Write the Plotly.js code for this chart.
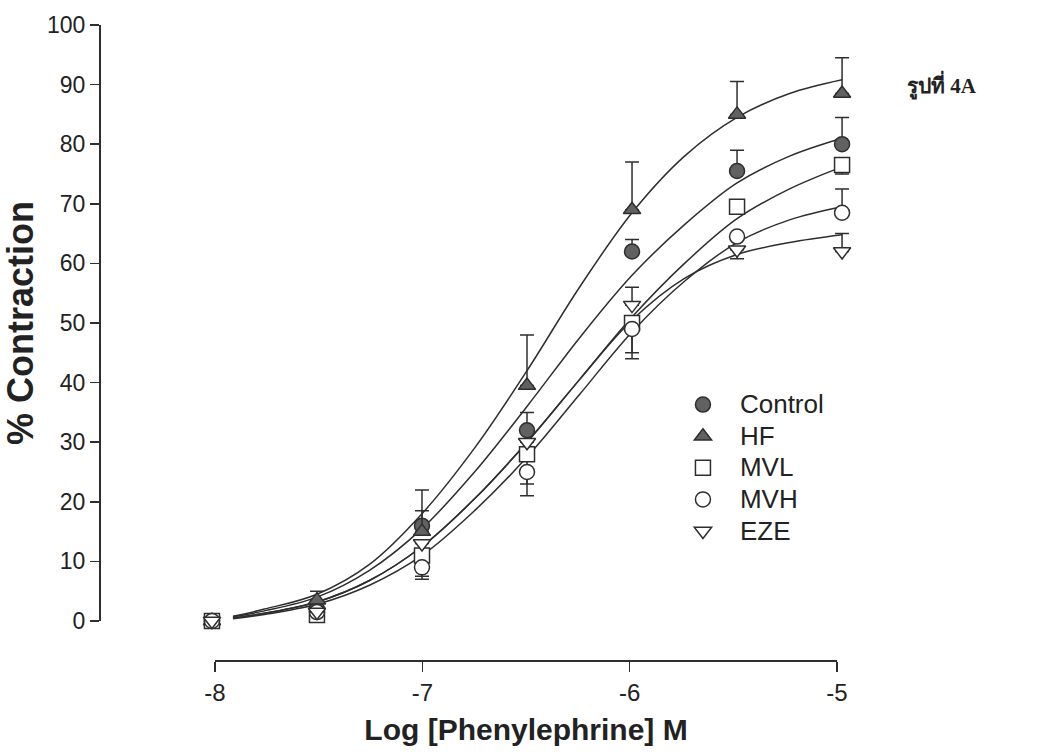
<!DOCTYPE html>
<html>
<head>
<meta charset="utf-8">
<script src="https://cdn.plot.ly/plotly-3.0.1.min.js"></script>
<style>html,body{margin:0;padding:0;background:#fff;}#chart{width:1044px;height:755px;}</style>
</head>
<body>
<div id="chart"></div>
<script>
// ---- data ----
var seriesNames = ["Control", "HF", "MVL", "MVH", "EZE"];
var logDose = [-8, -7.5, -7, -6.5, -6, -5.5, -5];

var controlMean = [0, 2, 16, 32, 62, 75.5, 80];
var hfMean      = [0, 3.5, 15, 39.5, 69, 85, 88.5];
var mvlMean     = [0, 1, 11, 28, 50, 69.5, 76.5];
var mvhMean     = [0, 1.5, 9, 25, 49, 64.5, 68.5];
var ezeMean     = [0, 1.5, 13, 30, 53, 62.3, 62];

var controlErrUp = [0, 0, 6, 3, 2, 3.5, 4.5];
var controlErrDn = [0, 0, 0, 0, 0, 0, 0];
var hfErrUp      = [0, 1.5, 3.5, 8.5, 8, 5.5, 6];
var hfErrDn      = [0, 0, 0, 0, 0, 0, 0];
var mvlErrUp     = [0, 0, 0, 0, 0, 0, 0];
var mvlErrDn     = [0, 0, 3.5, 5, 5, 0, 1.5];
var mvhErrUp     = [0, 0, 0, 0, 0, 0, 4];
var mvhErrDn     = [0, 0, 2, 4, 5, 0, 0];
var ezeErrUp     = [0, 0, 0, 0, 3, 0, 3];
var ezeErrDn     = [0, 0, 0, 0, 0, 1.5, 0];

// fitted curves
var curveDose    = [-7.9, -7.75, -7.5, -7.25, -7, -6.75, -6.5, -6.25, -6, -5.75, -5.5, -5.25, -5];
var hfCurve      = [0.8, 2, 4.5, 9.5, 18, 29, 42, 56, 68.5, 78, 84.5, 88.5, 90.8];
var controlCurve = [0.7, 1.7, 4, 8.5, 15.5, 25, 36, 47.5, 58, 66.5, 73.5, 78, 81];
var mvlCurve     = [0.5, 1.3, 3.2, 6.8, 12.5, 20.5, 30, 40.5, 51, 60, 67.5, 72.5, 76.2];
var mvhCurve     = [0.4, 1.1, 2.8, 6, 11, 18.5, 27.5, 38, 48.5, 57, 63.5, 67.3, 69.5];
var ezeCurve     = [0.5, 1.3, 3.2, 6.8, 12.5, 20.5, 30, 40.5, 50.5, 57.5, 61.5, 63.5, 64.8];

var xTickVals = [-8, -7, -6, -5];
var xTickText = ["-8", "-7", "-6", "-5"];
var yTickVals = [0, 10, 20, 30, 40, 50, 60, 70, 80, 90, 100];

// ---- styling ----
var ink = "#2e2e2e";
var fillDark = "#616161";
var font = "Liberation Sans, Arial, sans-serif";

function curve(y) {
  return {x: curveDose, y: y, mode: "lines", type: "scatter", line: {color: ink, width: 1.5, shape: "spline", smoothing: 1},
          showlegend: false, hoverinfo: "skip", xaxis: "x", yaxis: "y"};
}
function pts(name, y, up, dn, symbol, fill) {
  return {x: logDose, y: y, name: '<span style="font-size:26px">' + name + '</span>', mode: "markers", type: "scatter", cliponaxis: false,
          legendgroup: name,
          marker: {symbol: symbol, size: 15, color: fill, line: {color: ink, width: 1.5}},
          error_y: {type: "data", symmetric: false, array: up, arrayminus: dn, color: ink, thickness: 1.5, width: 7},
          xaxis: "x", yaxis: "y"};
}

var traces = [
  curve(hfCurve), curve(controlCurve), curve(mvlCurve), curve(mvhCurve), curve(ezeCurve),
  pts(seriesNames[0], controlMean, controlErrUp, controlErrDn, "circle", fillDark),
  pts(seriesNames[1], hfMean, hfErrUp, hfErrDn, "triangle-up", fillDark),
  pts(seriesNames[2], mvlMean, mvlErrUp, mvlErrDn, "square", "#ffffff"),
  pts(seriesNames[3], mvhMean, mvhErrUp, mvhErrDn, "circle", "#ffffff"),
  pts(seriesNames[4], ezeMean, ezeErrUp, ezeErrDn, "triangle-down", "#ffffff"),
  {x: xTickVals, y: [0, 0, 0, 0], mode: "none", type: "scatter", showlegend: false, hoverinfo: "skip", xaxis: "x2", yaxis: "y2"}
];

var layout = {
  width: 1044, height: 755,
  paper_bgcolor: "#ffffff", plot_bgcolor: "rgba(0,0,0,0)",
  margin: {l: 100, r: 174, t: 25, b: 95},
  font: {family: font, color: "#222"},
  showlegend: true,
  xaxis: {domain: [0, 1], range: [-8.533, -4.867], visible: false, fixedrange: true},
  yaxis: {domain: [0.0614, 1], range: [0, 100], anchor: "free", position: 0,
          showline: true, linecolor: ink, linewidth: 2, ticks: "outside", ticklen: 9, tickwidth: 1.5, tickcolor: ink,
          tickvals: yTickVals, showgrid: false, zeroline: false,
          tickfont: {size: 23, color: "#222", family: font},
          title: {text: "<b>% Contraction</b>", font: {size: 36, color: "#222", family: font}, standoff: 8}},
  xaxis2: {domain: [0.1494, 0.9571], range: [-8, -5], anchor: "y2",
           showline: true, linecolor: ink, linewidth: 2, ticks: "outside", ticklen: 10, tickwidth: 1.5, tickcolor: ink,
           tickvals: xTickVals, ticktext: xTickText, showgrid: false, zeroline: false,
           tickfont: {size: 24, color: "#222", family: font},
           title: {text: "<b>Log [Phenylephrine] M</b>", font: {size: 30, color: "#222", family: font}, standoff: 14}},
  yaxis2: {domain: [0, 0.01], range: [0, 1], anchor: "x2", visible: false},
  legend: {x: 0.735, y: 0.435, xanchor: "left", yanchor: "top", bgcolor: "rgba(0,0,0,0)",
           font: {size: 22, color: "#222", family: font}, traceorder: "normal", tracegroupgap: 0, itemwidth: 64},
  annotations: [
    {xref: "paper", yref: "paper", x: 1.045, y: 0.9055, xanchor: "left", yanchor: "middle", showarrow: false,
     text: "<b>รูปที่ 4A</b>", font: {size: 21, color: "#222", family: "Liberation Serif, DejaVu Serif, serif"}}
  ]
};

Plotly.newPlot("chart", traces, layout, {displayModeBar: false, staticPlot: true});
</script>
</body>
</html>
